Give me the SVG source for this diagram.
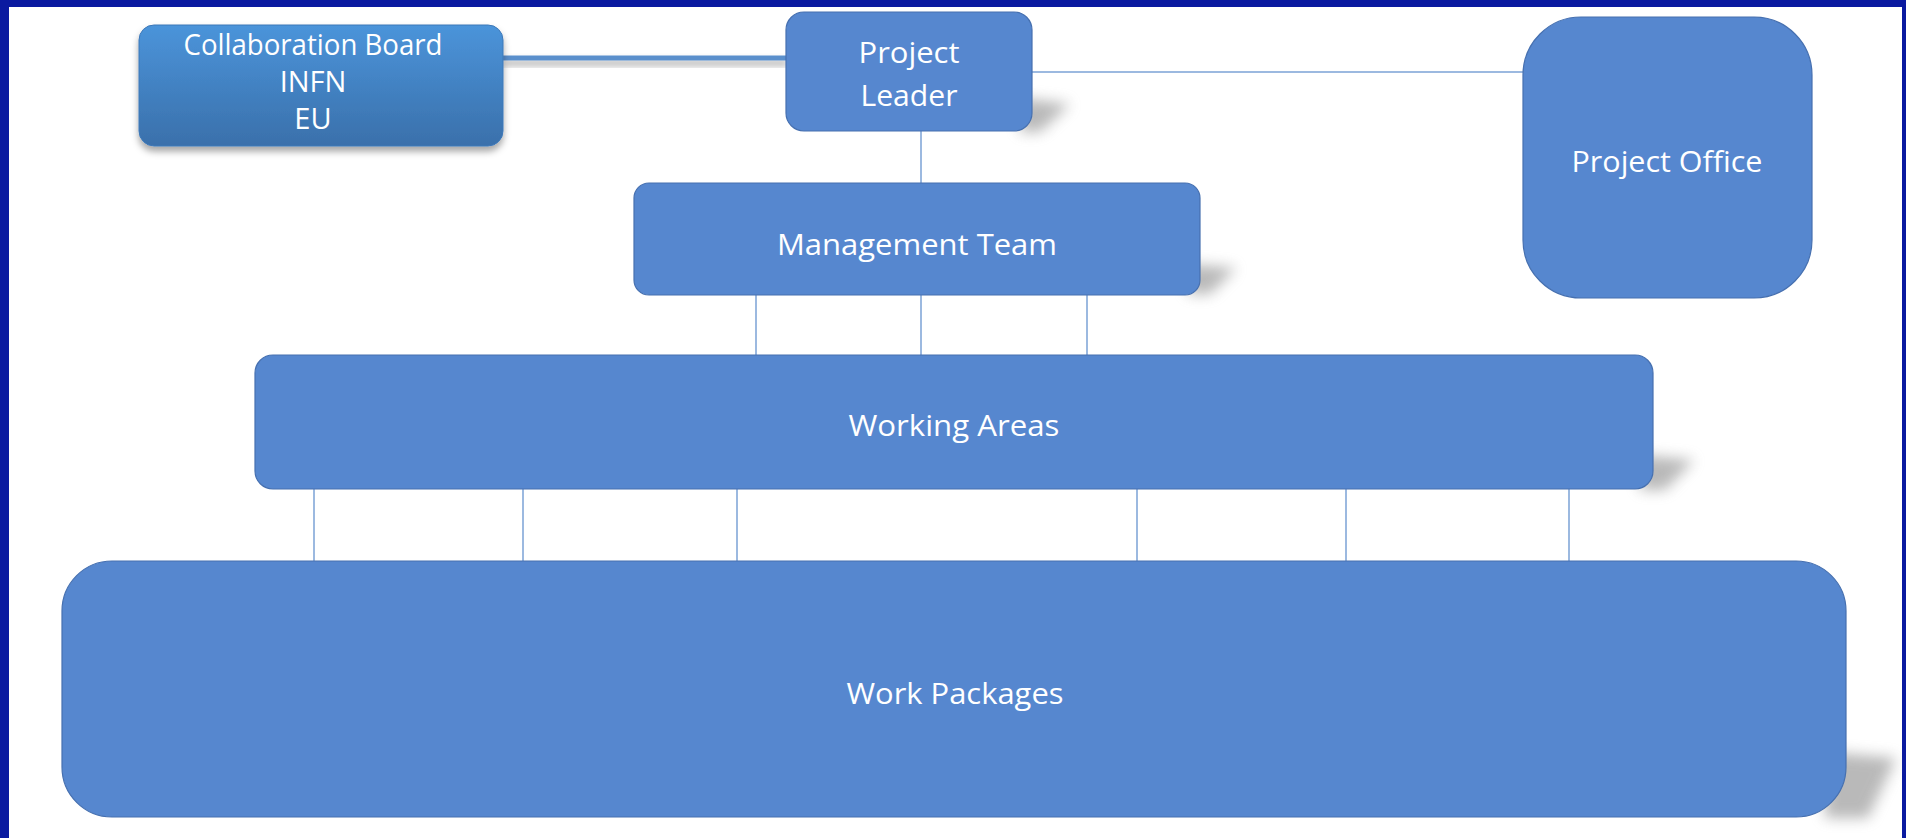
<svg xmlns="http://www.w3.org/2000/svg" width="1906" height="838" viewBox="0 0 1906 838">
  <defs>
    <linearGradient id="cbGrad" x1="0" y1="0" x2="0" y2="1">
      <stop offset="0" stop-color="#4b94da"/>
      <stop offset="1" stop-color="#3a70ab"/>
    </linearGradient>
    <filter id="blur" x="-50%" y="-50%" width="200%" height="200%">
      <feGaussianBlur stdDeviation="7"/>
    </filter>
    <filter id="drop" x="-10%" y="-50%" width="120%" height="300%">
      <feDropShadow dx="0" dy="5" stdDeviation="3.5" flood-color="#000" flood-opacity="0.35"/>
    </filter>
  </defs>
  <style>
    .box { fill: #5687cf; stroke: #4670b0; stroke-width: 1.2; }
    .shadow { fill: #808080; opacity: 0.55; filter: url(#blur); }
    .lbl { font-family: "Open Sans", "Liberation Sans", sans-serif; font-size: 29px; fill: #ffffff; text-anchor: middle; }
    .thin { stroke: #7ba2d6; stroke-width: 1.5; fill: none; }
  </style>

  <rect x="0" y="0" width="1906" height="838" fill="#0a1aa0"/>
  <rect x="9" y="7" width="1893" height="831" fill="#ffffff"/>

  <g id="connectors">
    <rect x="503" y="55.5" width="285" height="5" fill="#5a8fcc" filter="url(#drop)"/>
    <line class="thin" x1="1032" y1="72" x2="1523" y2="72"/>
    <line class="thin" x1="921" y1="131" x2="921" y2="183"/>
    <line class="thin" x1="756" y1="295" x2="756" y2="355"/>
    <line class="thin" x1="921" y1="295" x2="921" y2="355"/>
    <line class="thin" x1="1087" y1="295" x2="1087" y2="355"/>
    <line class="thin" x1="314" y1="489" x2="314" y2="561"/>
    <line class="thin" x1="523" y1="489" x2="523" y2="561"/>
    <line class="thin" x1="737" y1="489" x2="737" y2="561"/>
    <line class="thin" x1="1137" y1="489" x2="1137" y2="561"/>
    <line class="thin" x1="1346" y1="489" x2="1346" y2="561"/>
    <line class="thin" x1="1569" y1="489" x2="1569" y2="561"/>
  </g>

  <g id="collaboration-board">
    <rect x="139" y="25" width="364" height="121" rx="15" fill="url(#cbGrad)" stroke="#3d78b8" stroke-width="1" filter="url(#drop)"/>
    <text class="lbl" x="313" y="55" textLength="259" lengthAdjust="spacingAndGlyphs">Collaboration Board</text>
    <text class="lbl" x="313" y="92">INFN</text>
    <text class="lbl" x="313" y="129">EU</text>
  </g>

  <g id="project-leader">
    <path class="shadow" d="M1020,98 L1070,104 L1040,132 L1020,132 Z"/>
    <rect class="box" x="786" y="12" width="246" height="119" rx="18"/>
    <text class="lbl" x="909" y="63" textLength="101" lengthAdjust="spacingAndGlyphs">Project</text>
    <text class="lbl" x="909" y="106" textLength="97" lengthAdjust="spacingAndGlyphs">Leader</text>
  </g>

  <g id="project-office">
    <rect class="box" x="1523" y="17" width="289" height="281" rx="58"/>
    <text class="lbl" x="1667" y="172" textLength="191" lengthAdjust="spacingAndGlyphs">Project Office</text>
  </g>

  <g id="management-team">
    <path class="shadow" d="M1188,264 L1236,268 L1210,294 L1188,294 Z"/>
    <rect class="box" x="634" y="183" width="566" height="112" rx="15"/>
    <text class="lbl" x="917" y="255" textLength="280" lengthAdjust="spacingAndGlyphs">Management Team</text>
  </g>

  <g id="working-areas">
    <path class="shadow" d="M1640,455 L1694,460 L1665,490 L1640,490 Z"/>
    <rect class="box" x="255" y="355" width="1398" height="134" rx="18"/>
    <text class="lbl" x="954" y="436" textLength="211" lengthAdjust="spacingAndGlyphs">Working Areas</text>
  </g>

  <g id="work-packages">
    <path class="shadow" d="M1825,752 L1896,758 L1868,818 L1825,818 Z"/>
    <rect class="box" x="62" y="561" width="1784" height="256" rx="50"/>
    <text class="lbl" x="955" y="704" textLength="217" lengthAdjust="spacingAndGlyphs">Work Packages</text>
  </g>
</svg>
